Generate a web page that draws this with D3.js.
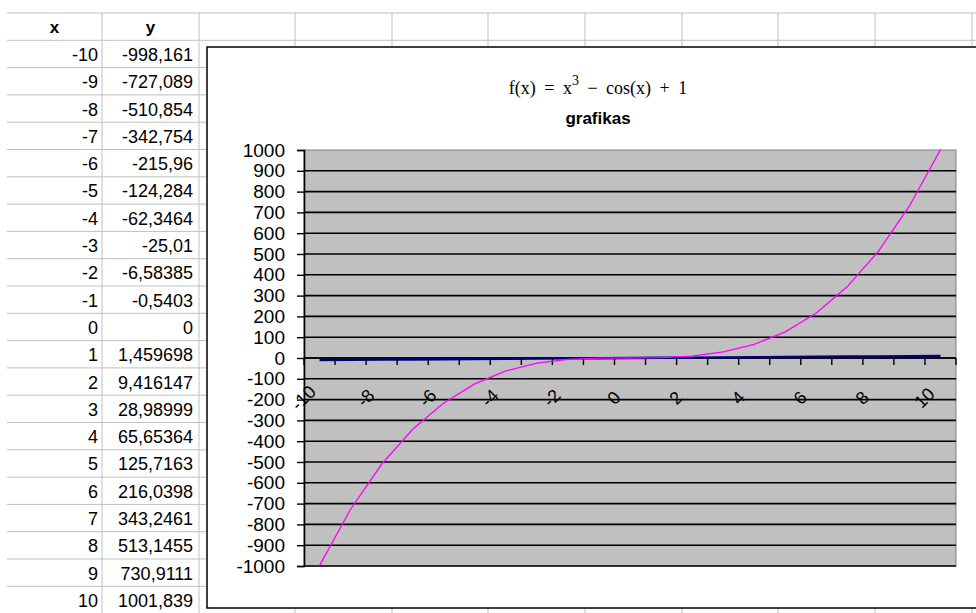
<!DOCTYPE html>
<html>
<head>
<meta charset="utf-8">
<script src="https://cdn.jsdelivr.net/npm/d3@7"></script>
<style>
  body { margin: 0; background: #fff; }
  svg { display: block; }
  text { font-family: "Liberation Sans", Arial, sans-serif; fill: #000; }
</style>
</head>
<body>
<div id="sheet"></div>
<script>
// worksheet columns A (x) and B (y)
var xVals = [-10, -9, -8, -7, -6, -5, -4, -3, -2, -1, 0, 1, 2, 3, 4, 5, 6, 7, 8, 9, 10];
var yVals = [-998.161, -727.089, -510.854, -342.754, -215.96, -124.284, -62.3464, -25.01,
             -6.58385, -0.5403, 0, 1.459698, 9.416147, 28.98999, 65.65364, 125.7163,
             216.0398, 343.2461, 513.1455, 730.9111, 1001.839];
var yTicks = [1000, 900, 800, 700, 600, 500, 400, 300, 200, 100, 0,
              -100, -200, -300, -400, -500, -600, -700, -800, -900, -1000];
var xTickLabels = [-10, -8, -6, -4, -2, 0, 2, 4, 6, 8, 10];
var titleMain = "f(x) = x";
var titleSup = "3";
var titleRest = " \u2212 cos(x) + 1";
var subTitle = "grafikas";

var width = 976, height = 613;

var svg = d3.select("#sheet").append("svg")
    .attr("width", width)
    .attr("height", height);

//
// spreadsheet grid behind the chart object
//
var gridColor = "#c0c0c0",
    headerTop = 13,
    rowH = 27.3,
    colEdges = [7, 102, 199, 295, 392, 488, 585, 682, 778, 875, 972];

var rowLines = d3.range(xVals.length + 2).map(function (i) {
    return headerTop + rowH * i;
});

svg.append("g").selectAll("line")
    .data(rowLines)
    .enter().append("line")
    .attr("x1", 7).attr("x2", width)
    .attr("y1", function (d) { return d; })
    .attr("y2", function (d) { return d; })
    .attr("stroke", gridColor)
    .attr("stroke-width", 1);

svg.append("g").selectAll("line")
    .data(colEdges.slice(1))
    .enter().append("line")
    .attr("x1", function (d) { return d; })
    .attr("x2", function (d) { return d; })
    .attr("y1", headerTop).attr("y2", height)
    .attr("stroke", gridColor)
    .attr("stroke-width", 1);

// header cells
svg.append("text")
    .attr("x", (colEdges[0] + colEdges[1]) / 2)
    .attr("y", headerTop + rowH / 2 + 1)
    .attr("text-anchor", "middle")
    .attr("dominant-baseline", "central")
    .style("font-size", "17px")
    .style("font-weight", "bold")
    .text("x");
svg.append("text")
    .attr("x", (colEdges[1] + colEdges[2]) / 2)
    .attr("y", headerTop + rowH / 2 + 1)
    .attr("text-anchor", "middle")
    .attr("dominant-baseline", "central")
    .style("font-size", "17px")
    .style("font-weight", "bold")
    .text("y");

var fmt = function (v) { return String(v).replace(".", ","); };

var cells = svg.append("g").selectAll("g")
    .data(xVals)
    .enter().append("g")
    .attr("transform", function (d, i) {
        return "translate(0," + (headerTop + rowH * (i + 1) + rowH / 2 + 1) + ")";
    });
cells.append("text")
    .attr("x", colEdges[1] - 4)
    .attr("text-anchor", "end")
    .attr("dominant-baseline", "central")
    .style("font-size", "18px")
    .text(function (d) { return fmt(d); });
cells.append("text")
    .attr("x", colEdges[2] - 6)
    .attr("text-anchor", "end")
    .attr("dominant-baseline", "central")
    .style("font-size", "18px")
    .text(function (d, i) { return fmt(yVals[i]); });

//
// the embedded chart object
//
svg.append("rect")
    .attr("x", 207).attr("y", 47)
    .attr("width", 820).attr("height", 561)
    .attr("fill", "#fff")
    .attr("stroke", "#000")
    .attr("stroke-width", 1.5);

var plot = { left: 304, right: 956, top: 150, bottom: 566 };

var x = d3.scaleBand()
    .domain(xVals)
    .range([plot.left, plot.right]);
var y = d3.scaleLinear()
    .domain([-1000, 1000])
    .range([plot.bottom, plot.top]);
var cx = function (d) { return x(d) + x.bandwidth() / 2; };

// title
var title = svg.append("text")
    .attr("x", 598)
    .attr("y", 94)
    .attr("text-anchor", "middle")
    .style("font-family", "'Liberation Serif', 'Times New Roman', serif")
    .style("font-size", "18px")
    .style("word-spacing", "4px");
title.append("tspan").text(titleMain);
title.append("tspan").attr("dy", -9).style("font-size", "14px").text(titleSup);
title.append("tspan").attr("dy", 9).text(titleRest);

svg.append("text")
    .attr("x", 598)
    .attr("y", 124)
    .attr("text-anchor", "middle")
    .style("font-size", "17px")
    .style("font-weight", "bold")
    .text(subTitle);

// plot area
svg.append("rect")
    .attr("x", plot.left).attr("y", plot.top)
    .attr("width", plot.right - plot.left)
    .attr("height", plot.bottom - plot.top)
    .attr("fill", "#c0c0c0")
    .attr("stroke", "#808080")
    .attr("stroke-width", 1);

svg.append("g").selectAll("line")
    .data(yTicks.filter(function (d) { return d < 1000; }))
    .enter().append("line")
    .attr("x1", plot.left).attr("x2", plot.right)
    .attr("y1", function (d) { return y(d); })
    .attr("y2", function (d) { return y(d); })
    .attr("stroke", "#000")
    .attr("stroke-width", 1.6);

// value axis on the left
var yAxis = d3.axisLeft(y)
    .tickValues(yTicks)
    .tickFormat(function (d) { return String(d); })
    .tickSize(7)
    .tickPadding(12);
var yG = svg.append("g")
    .attr("transform", "translate(" + plot.left + ",0)")
    .call(yAxis);
yG.select(".domain").attr("stroke", "#000").attr("stroke-width", 1.6);
yG.selectAll(".tick line").attr("stroke", "#000").attr("stroke-width", 1.4);
yG.selectAll(".tick text")
    .style("font-family", "'Liberation Sans', Arial, sans-serif")
    .style("font-size", "19px")
    .attr("fill", "#000");

// category axis through zero, ticks between categories
var bounds = d3.range(xVals.length + 1).map(function (k) {
    return plot.left + k * x.bandwidth();
});
svg.append("line")
    .attr("x1", plot.left).attr("x2", plot.right)
    .attr("y1", y(0)).attr("y2", y(0))
    .attr("stroke", "#000").attr("stroke-width", 1.6);
svg.append("g").selectAll("line")
    .data(bounds)
    .enter().append("line")
    .attr("x1", function (d) { return d; })
    .attr("x2", function (d) { return d; })
    .attr("y1", y(0)).attr("y2", y(0) + 7)
    .attr("stroke", "#000").attr("stroke-width", 1.4);

svg.append("g").selectAll("text")
    .data(xTickLabels)
    .enter().append("text")
    .attr("transform", function (d) {
        return "translate(" + (cx(d) - 16) + "," + 398 + ") rotate(-45)";
    })
    .attr("text-anchor", "middle")
    .attr("dominant-baseline", "central")
    .style("font-size", "18px")
    .text(function (d) { return d; });

// series: x (nearly flat) and y
var lineX = d3.line()
    .x(function (d) { return cx(d); })
    .y(function (d) { return y(d); });
svg.append("path")
    .datum(xVals)
    .attr("d", lineX)
    .attr("fill", "none")
    .attr("stroke", "#000080")
    .attr("stroke-width", 2.4);

var lineY = d3.line()
    .x(function (d, i) { return cx(xVals[i]); })
    .y(function (d) { return y(d); });
svg.append("path")
    .datum(yVals)
    .attr("d", lineY)
    .attr("fill", "none")
    .attr("stroke", "#ff00ff")
    .attr("stroke-width", 1.3);
</script>
</body>
</html>
